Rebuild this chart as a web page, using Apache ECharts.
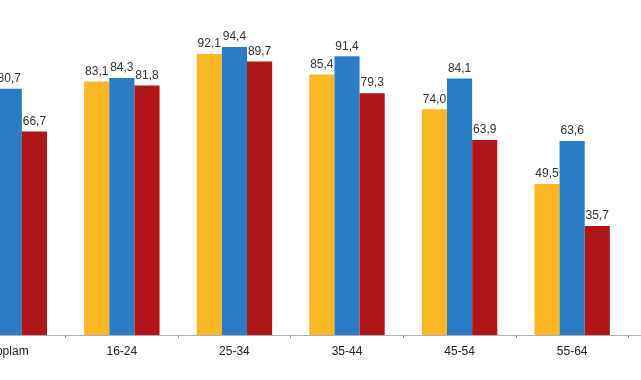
<!DOCTYPE html>
<html><head><meta charset="utf-8">
<script src="https://cdn.jsdelivr.net/npm/echarts@6/dist/echarts.min.js"></script>
<style>html,body{margin:0;padding:0;background:#fff;overflow:hidden;width:641px;height:380px;position:relative}
#c{width:788px;height:380px;position:absolute;left:-47px;top:0}</style>
</head><body><div id="c"></div>
<script>
const categories = ['Toplam','16-24','25-34','35-44','45-54','55-64','65-74'];
const toplam = [null, 83.1, 92.1, 85.4, 74.0, 49.5, null];
const erkek  = [80.7, 84.3, 94.4, 91.4, 84.1, 63.6, null];
const kadin  = [66.7, 81.8, 89.7, 79.3, 63.9, 35.7, null];
const seriesNames = ['Toplam','Erkek','Kadın'];
const colors = ['#FBB824','#2A7DC3','#B0151A'];

const chart = echarts.init(document.getElementById('c'));
const lbl = {show:true, position:'top', distance:4, color:'#333', fontSize:12,
  fontFamily:'Liberation Sans, Arial, sans-serif',
  formatter: p => p.value == null ? '' : p.value.toFixed(1).replace('.', ',')};
chart.setOption({
  animation:false,
  grid:{left:0, right:0, top:30, bottom:45},
  xAxis:{type:'category', data:categories,
    axisLine:{lineStyle:{color:'#b0b0b0'}},
    axisTick:{show:true, length:3, lineStyle:{color:'#999'}},
    axisLabel:{color:'#222', fontSize:12, margin:11, fontFamily:'Liberation Sans, Arial, sans-serif'}},
  yAxis:{type:'value', min:0, max:100, show:false, splitLine:{show:false}},
  series:[toplam, erkek, kadin].map((d,i)=>({
    name:seriesNames[i], type:'bar', data:d, barGap:'0%', barCategoryGap:'33%',
    itemStyle:{color:colors[i]}, label:lbl
  }))
});
</script></body></html>
